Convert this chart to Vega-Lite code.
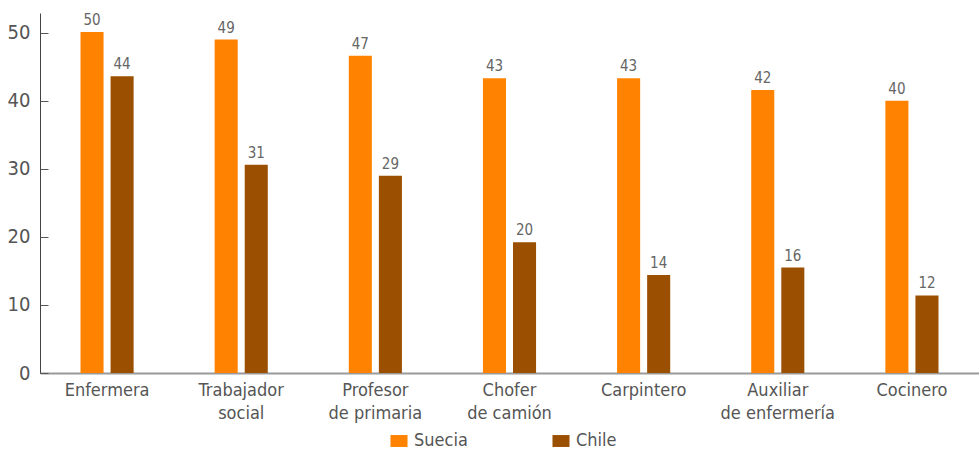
{
  "$schema": "https://vega.github.io/schema/vega-lite/v6.json",
  "width": 939,
  "height": 360,
  "padding": {"left": 40, "top": 13, "right": 0, "bottom": 78},
  "autosize": {"type": "none"},
  "background": "white",
  "config": {
    "view": {"stroke": null},
    "font": "DejaVu Sans Condensed",
    "axis": {"grid": false, "labelFont": "DejaVu Sans Condensed", "labelColor": "#555555"},
    "legend": {"labelFont": "DejaVu Sans Condensed"}
  },
  "data": {
    "values": [
      {"ocupacion": "Enfermera", "pais": "Suecia", "valor": 50.1, "etiqueta": "50"},
      {"ocupacion": "Enfermera", "pais": "Chile", "valor": 43.6, "etiqueta": "44"},
      {"ocupacion": "Trabajador social", "pais": "Suecia", "valor": 49.0, "etiqueta": "49"},
      {"ocupacion": "Trabajador social", "pais": "Chile", "valor": 30.6, "etiqueta": "31"},
      {"ocupacion": "Profesor de primaria", "pais": "Suecia", "valor": 46.6, "etiqueta": "47"},
      {"ocupacion": "Profesor de primaria", "pais": "Chile", "valor": 29.0, "etiqueta": "29"},
      {"ocupacion": "Chofer de camión", "pais": "Suecia", "valor": 43.3, "etiqueta": "43"},
      {"ocupacion": "Chofer de camión", "pais": "Chile", "valor": 19.2, "etiqueta": "20"},
      {"ocupacion": "Carpintero", "pais": "Suecia", "valor": 43.3, "etiqueta": "43"},
      {"ocupacion": "Carpintero", "pais": "Chile", "valor": 14.4, "etiqueta": "14"},
      {"ocupacion": "Auxiliar de enfermería", "pais": "Suecia", "valor": 41.6, "etiqueta": "42"},
      {"ocupacion": "Auxiliar de enfermería", "pais": "Chile", "valor": 15.5, "etiqueta": "16"},
      {"ocupacion": "Cocinero", "pais": "Suecia", "valor": 40.0, "etiqueta": "40"},
      {"ocupacion": "Cocinero", "pais": "Chile", "valor": 11.4, "etiqueta": "12"}
    ]
  },
  "encoding": {
    "x": {
      "field": "ocupacion",
      "type": "nominal",
      "sort": null,
      "scale": {"paddingInner": 0.604, "paddingOuter": 0.302},
      "axis": {
        "title": null,
        "labelAngle": 0,
        "ticks": false,
        "labelPadding": 8,
        "labelFontSize": 18,
        "labelLineHeight": 23,
        "labelBaseline": "top",
        "domainColor": "#999999",
        "domainWidth": 2,
        "labelExpr": "indexof(datum.label, ' ') > 0 ? [substring(datum.label, 0, indexof(datum.label, ' ')), substring(datum.label, indexof(datum.label, ' ') + 1)] : datum.label"
      }
    },
    "xOffset": {
      "field": "pais",
      "type": "nominal",
      "sort": ["Suecia", "Chile"],
      "scale": {"paddingInner": 0.233, "paddingOuter": 0}
    },
    "y": {
      "field": "valor",
      "type": "quantitative",
      "scale": {"domain": [0, 52.9], "nice": false},
      "axis": {
        "title": null,
        "values": [0, 10, 20, 30, 40, 50],
        "tickSize": -8,
        "tickColor": "#555555",
        "domainColor": "#444444",
        "labelPadding": 18,
        "labelFontSize": 20
      }
    },
    "color": {
      "field": "pais",
      "type": "nominal",
      "sort": ["Suecia", "Chile"],
      "scale": {"domain": ["Suecia", "Chile"], "range": ["#ff8200", "#9b4f00"]},
      "legend": {
        "title": null,
        "orient": "none",
        "direction": "horizontal",
        "legendX": 350,
        "legendY": 419,
        "symbolType": "M-1,-0.7H1V0.7H-1Z",
        "symbolSize": 290,
        "symbolOpacity": 1,
        "symbolStrokeWidth": 0,
        "labelFontSize": 18,
        "labelColor": "#555555",
        "labelOffset": 6,
        "columnPadding": 84
      }
    }
  },
  "layer": [
    {"mark": {"type": "bar"}},
    {
      "mark": {"type": "text", "baseline": "bottom", "dy": -4, "fontSize": 15, "color": "#666666"},
      "encoding": {"text": {"field": "etiqueta"}, "color": {"value": "#666666"}}
    }
  ]
}
